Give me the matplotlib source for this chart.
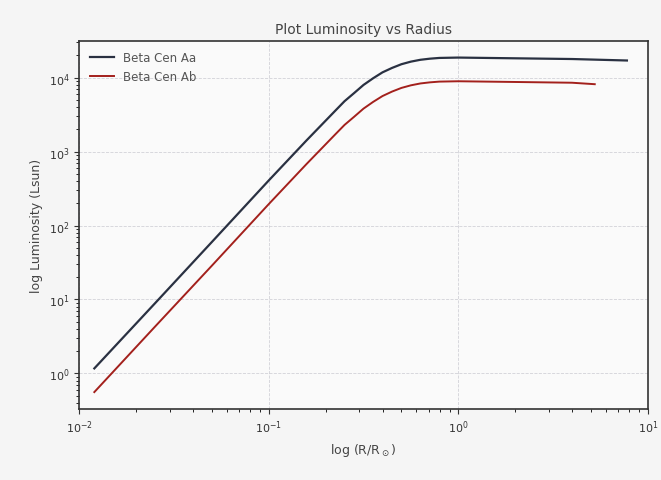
import matplotlib
matplotlib.use("Agg")
import matplotlib.pyplot as plt

# radius (R/Rsun) and luminosity (Lsun) for the two components
radius_aa = [0.0120, 0.0251, 0.0501, 0.100, 0.158, 0.224, 0.251, 0.282,
             0.316, 0.355, 0.398, 0.447, 0.501, 0.562, 0.631, 0.708,
             0.794, 1.0, 2.0, 3.98, 7.76]
lum_aa = [1.17, 8.9, 60, 407, 1410, 3550, 4790, 6170,
          7940, 9770, 11750, 13490, 15140, 16410, 17380, 17990,
          18410, 18620, 18200, 17800, 17000]

radius_ab = [0.0120, 0.0251, 0.0501, 0.100, 0.158, 0.224, 0.251, 0.282,
             0.316, 0.355, 0.398, 0.447, 0.501, 0.562, 0.631, 0.708,
             0.794, 1.0, 2.0, 3.98, 5.25]
lum_ab = [0.56, 4.3, 28.7, 195, 676, 1700, 2290, 2950,
          3800, 4680, 5620, 6460, 7240, 7850, 8320, 8610,
          8810, 8910, 8710, 8510, 8130]

fig = plt.figure(figsize=(6.61, 4.81), dpi=100)
fig.patch.set_facecolor("#f5f5f5")
ax = fig.add_axes([0.12, 0.148, 0.86, 0.765])
ax.set_facecolor("#fafafa")

ax.plot(radius_aa, lum_aa, color="#2a3142", lw=1.6, label="Beta Cen Aa")
ax.plot(radius_ab, lum_ab, color="#a3201c", lw=1.4, label="Beta Cen Ab")

ax.set_xscale("log")
ax.set_yscale("log")
ax.set_xlim(1e-2, 1e1)

ax.grid(True, which="major", ls="--", lw=0.6, color="#c8c8d0", alpha=0.8)
ax.tick_params(labelsize=8, colors="#333333")
for s in ax.spines.values():
    s.set_linewidth(1.2)
    s.set_color("#333333")

ax.set_title("Plot Luminosity vs Radius", fontsize=10, color="#444444")
ax.set_xlabel(r"log (R/R$_\odot$)", fontsize=9, color="#444444")
ax.set_ylabel("log Luminosity (Lsun)", fontsize=9, color="#444444")
leg = ax.legend(loc="upper left", fontsize=8.5, frameon=False)
for t in leg.get_texts():
    t.set_color("#555555")

fig.savefig("out.png", dpi=100, facecolor=fig.get_facecolor())
